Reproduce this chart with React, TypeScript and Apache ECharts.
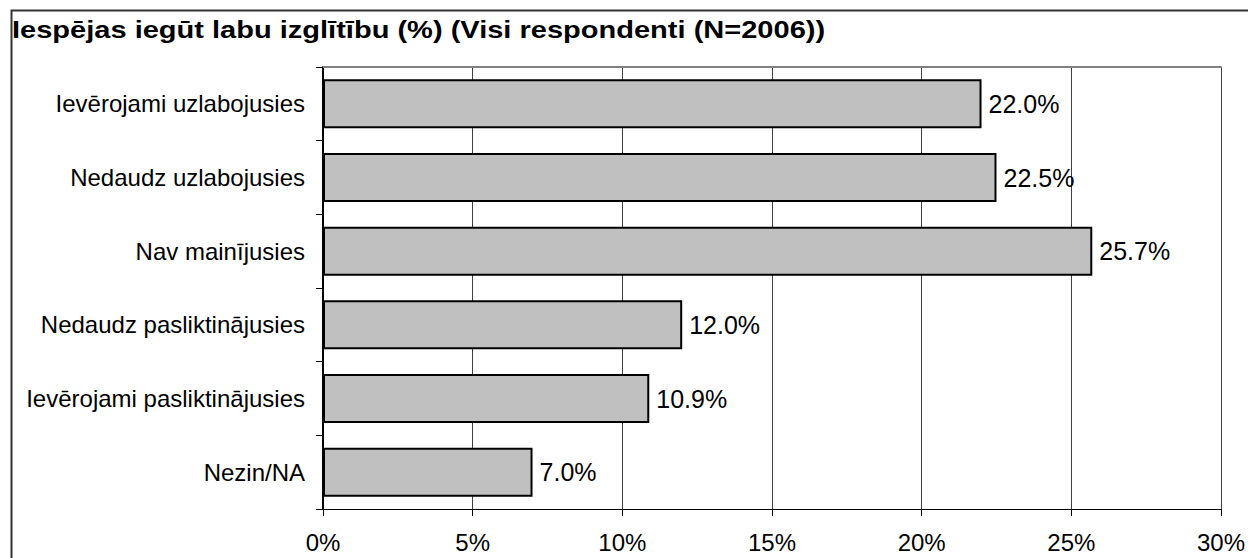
import React, { useEffect, useRef } from "react";
import * as echarts from "echarts";

const titleText = "Iespējas iegūt labu izglītību (%) (Visi respondenti (N=2006))";
const categories = [
  "Ievērojami uzlabojusies",
  "Nedaudz uzlabojusies",
  "Nav mainījusies",
  "Nedaudz pasliktinājusies",
  "Ievērojami pasliktinājusies",
  "Nezin/NA",
];
const values = [22.0, 22.5, 25.7, 12.0, 10.9, 7.0];
const axisMin = 0;
const axisMax = 30;
const axisStep = 5;

const FONT = "'Liberation Sans', Arial, Helvetica, sans-serif";

export default function App() {
  const ref = useRef<HTMLDivElement>(null);
  useEffect(() => {
    if (!ref.current) return;
    const chart = echarts.init(ref.current, null, { renderer: "svg" });
    chart.setOption({
      animation: false,
      backgroundColor: "#ffffff",
      textStyle: { fontFamily: FONT },
      graphic: [
        {
          type: "rect",
          left: 9,
          top: 8,
          shape: { width: 1300, height: 600 },
          style: { fill: "none", stroke: "#333", lineWidth: 2 },
          silent: true,
        },
        {
          type: "text",
          x: 12,
          y: 30,
          scaleX: 1.21,
          style: {
            text: titleText,
            fontFamily: FONT,
            fontSize: 24,
            fontWeight: "bold",
            fill: "#000",
            textVerticalAlign: "middle",
            textAlign: "left",
          },
          silent: true,
        },
      ],
      grid: { left: 323, right: 22, top: 67, bottom: 49, containLabel: false },
      xAxis: [
        {
          type: "value",
          position: "bottom",
          min: axisMin,
          max: axisMax,
          interval: axisStep,
          axisLine: { show: true, lineStyle: { color: "#000", width: 1 } },
          axisTick: { show: true, inside: false, length: 7, lineStyle: { color: "#000" } },
          axisLabel: {
            formatter: (v: number) => v + "%",
            fontFamily: FONT,
            fontSize: 24,
            color: "#000",
            margin: 21,
          },
          splitLine: { show: true, lineStyle: { color: "#404040", width: 1 } },
        },
        {
          type: "value",
          position: "top",
          min: axisMin,
          max: axisMax,
          interval: axisStep,
          axisLine: { show: true, lineStyle: { color: "#808080", width: 2 } },
          axisTick: { show: false },
          axisLabel: { show: false },
          splitLine: { show: false },
        },
      ],
      yAxis: [
        {
          type: "category",
          data: categories,
          inverse: true,
          position: "left",
          axisLine: { show: true, lineStyle: { color: "#000", width: 1 } },
          axisTick: { show: true, inside: false, length: 7, lineStyle: { color: "#000" } },
          axisLabel: { fontFamily: FONT, fontSize: 24, color: "#000", margin: 18 },
        },
        {
          type: "category",
          data: categories,
          inverse: true,
          position: "right",
          axisLine: { show: true, lineStyle: { color: "#000", width: 2 } },
          axisTick: { show: false },
          axisLabel: { show: false },
        },
      ],
      series: [
        {
          type: "bar",
          data: values,
          xAxisIndex: 0,
          yAxisIndex: 0,
          barWidth: 49,
          itemStyle: { color: "#c0c0c0", borderColor: "#000", borderWidth: 2 },
          label: {
            show: true,
            position: "right",
            distance: 7,
            formatter: (p: any) => Number(p.value).toFixed(1) + "%",
            fontFamily: FONT,
            fontSize: 25,
            color: "#000",
          },
        },
      ],
    });
    return () => chart.dispose();
  }, []);
  return (
    <div
      ref={ref}
      style={{ position: "fixed", left: 0, top: 0, width: 1248, height: 558 }}
    />
  );
}
